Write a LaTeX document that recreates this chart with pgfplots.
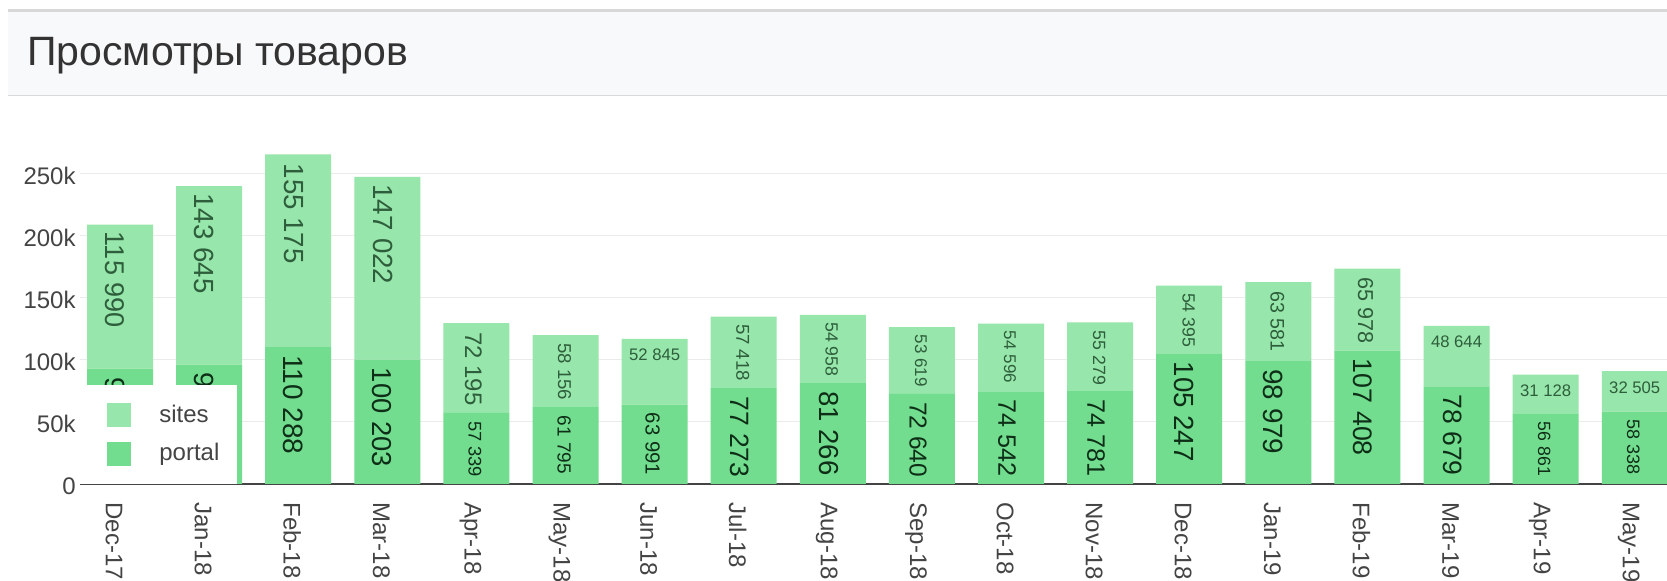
\documentclass[border=0pt]{standalone}
\usepackage{fontspec}
\setmainfont{Liberation Sans}
\usepackage{pgfplots}
\usepackage{pgfplotstable}
\pgfplotsset{compat=1.18}
\definecolor{sitesc}{HTML}{97E6AB}
\definecolor{portalc}{HTML}{72DD8E}
\definecolor{slab}{HTML}{2E5E3B}
\definecolor{plab}{HTML}{0E2E17}
\definecolor{c444}{HTML}{444444}
\definecolor{cgrid}{HTML}{EBEBEB}
\definecolor{cband}{HTML}{F8F9FA}
\definecolor{cline}{HTML}{D8D8D8}
\definecolor{ctitle}{HTML}{333333}

% yp / ys: label offsets (bp) from the segment middle, where pgfplots puts stacked labels
\pgfplotstableread{
x  portal sites  fsp   fss   xsp   xss   rs  anc  yp     ys
0  92900  115990 13.85 13.55 -2.5  -2.5  -90 180  24.85  32.52
1  96200  143645 13.85 13.85 -2.5  -2.5  -90 180  25.87  41.11
2  110288 155175 14.0  13.85 -2.5  -2.0  -90 180  30.25  43.69
3  100203 147022 13.7  13.85 -2.5  -2.0  -90 180  27.12  42.16
4  57339  72195  9.15  11.95 -0.7  -1.5  -90 180  13.81  17.92
5  61795  58156  9.5   9.3   -0.7  -0.5  -90 180  15.19  14.06
6  63991  52845  10.15 8.35  -1.0   0     0  90   15.87  11.66
7  77273  57418  13.25 9.3   -2.0  -0.5  -90 180  20.00  14.33
8  81266  54958  13.75 8.85  -2.0  -0.5  -90 180  21.24  13.57
9  72640  53619  12.25 8.5   -2.0  -0.5  -90 180  18.56  13.15
10 74542  54596  12.6  8.5   -2.0  -0.5  -90 180  19.15  13.45
11 74781  55279  12.6  8.85  -2.0  -0.5  -90 180  19.22  13.17
12 105247 54395  13.85 8.85  -2.5  -0.3  -90 180  28.68  13.39
13 98979  63581  13.9  9.8   -2.5  -0.5  -90 180  26.74  15.24
14 107408 65978  13.4  10.8  -2.5  -1.0  -90 180  29.35  16.49
15 78679  48644  13.25 8.35  -2.0   0     0  90   20.43  10.11
16 56861  31128  8.85  8.35  -0.7   0     0  90   13.66  4.67
17 58338  32505  9.0   8.35  -0.7   0     0  90   14.12  5.09
}\data

\begin{document}
\begin{tikzpicture}
\useasboundingbox (0,0) rectangle (833.5bp,290.5bp);
\fill[white] (0,0) rectangle (833.5bp,290.5bp);
\fill[cband] (4bp,243bp) rectangle (833.5bp,284.5bp);
\fill[cline] (4bp,284.5bp) rectangle (833.5bp,286bp);
\fill[cline] (4bp,242.5bp) rectangle (833.5bp,243bp);
\node[anchor=base west, inner sep=0pt, font=\fontsize{20.5bp}{22bp}\selectfont, text=ctitle] at (13.5bp,257.5bp) {Просмотры товаров};
\begin{axis}[
  at={(40bp,48.5bp)}, anchor=south west,
  scale only axis, width=793.5bp, height=173.9bp,
  xmin=-0.449, xmax=17.362, ymin=0, ymax=280000,
  ybar stacked, bar width=33bp,
  axis lines*=left,
  y axis line style={draw=none},
  x axis line style={draw=c444, line width=1bp, -},
  major tick length=0pt,
  ymajorgrids, grid style={draw=cgrid, line width=0.5bp},
  ytick={0,50000,100000,150000,200000,250000},
  yticklabels={0,50k,100k,150k,200k,250k},
  scaled y ticks=false,
  xtick={0,1,2,3,4,5,6,7,8,9,10,11,12,13,14,15,16,17},
  xticklabels={Dec-17,Jan-18,Feb-18,Mar-18,Apr-18,May-18,Jun-18,Jul-18,Aug-18,Sep-18,Oct-18,Nov-18,Dec-18,Jan-19,Feb-19,Mar-19,Apr-19,May-19},
  ticklabel style={font=\fontsize{12bp}{14bp}\selectfont, text=c444, inner sep=0pt},
  yticklabel style={anchor=east, xshift=-2bp, yshift=-1bp},
  xticklabel style={xshift=-3bp, yshift=-9bp, rotate=-90, anchor=west},
  legend image code/.code={\path (0bp,0bp); \fill[#1] (4.5bp,-6bp) rectangle (16.5bp,6bp);},
  legend cell align=left,
  legend style={at={(0,0)}, anchor=south west, draw=none, fill=white,
    inner xsep=9bp, inner ysep=9bp, row sep=7.25bp, column sep=14bp,
    font=\fontsize{12bp}{14bp}\selectfont, text=c444, nodes={inner sep=0pt}},
]
\addplot[fill=portalc, draw=none, forget plot, point meta=explicit,
  nodes near coords={\pgfmathprintnumber[fixed,precision=0,1000 sep={\ },assume math mode=true]{\pgfplotspointmeta}},
  visualization depends on={\thisrow{fsp} \as \fsz},
  visualization depends on={\thisrow{xsp} \as \xsv},
  visualization depends on={\thisrow{yp} \as \ysv},
  every node near coord/.append style={xshift=\xsv bp, yshift=\ysv bp, rotate=-90, anchor=west, inner sep=0pt,
    font=\fontsize{\fsz bp}{\fsz bp}\selectfont, text=plab},
] table[x=x, y=portal, meta=portal] {\data};
\addplot[fill=sitesc, draw=none, forget plot, point meta=explicit,
  nodes near coords={\pgfmathprintnumber[fixed,precision=0,1000 sep={\ },assume math mode=true]{\pgfplotspointmeta}},
  visualization depends on={\thisrow{fss} \as \fsz},
  visualization depends on={\thisrow{xss} \as \xsv},
  visualization depends on={\thisrow{ys} \as \ysv},
  visualization depends on={\thisrow{rs} \as \rotv},
  visualization depends on={\thisrow{anc} \as \ancv},
  every node near coord/.append style={xshift=\xsv bp, yshift=\ysv bp, rotate=\rotv, anchor=\ancv, inner sep=0pt,
    font=\fontsize{\fsz bp}{\fsz bp}\selectfont, text=slab},
] table[x=x, y=sites, meta=sites] {\data};
\addlegendimage{fill=sitesc, draw=none}
\addlegendentry{sites}
\addlegendimage{fill=portalc, draw=none}
\addlegendentry{portal}
\end{axis}
\end{tikzpicture}
\end{document}
